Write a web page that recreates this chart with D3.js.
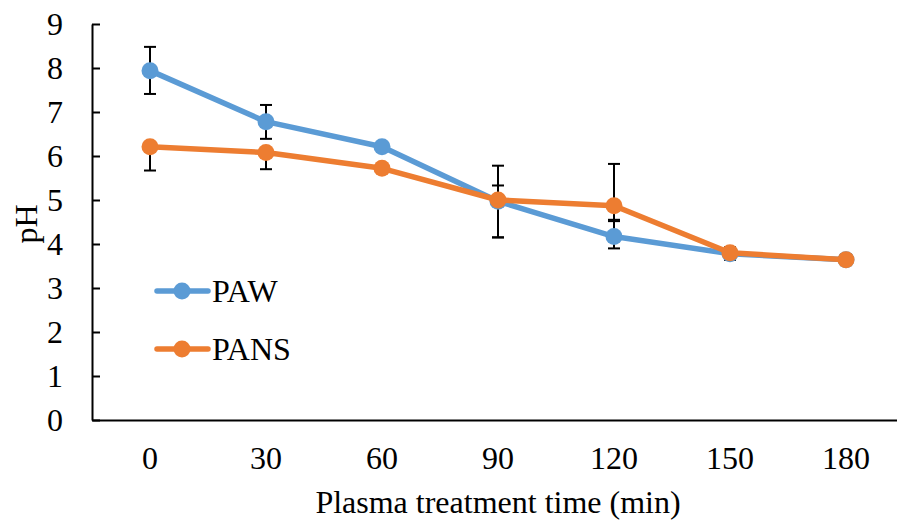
<!DOCTYPE html>
<html>
<head>
<meta charset="utf-8">
<script src="https://cdn.jsdelivr.net/npm/d3@7"></script>
<style>
  body { margin: 0; background: #fff; }
  text { font-family: "Liberation Serif", "Times New Roman", serif; fill: #000; }
</style>
</head>
<body>
<div id="chart"></div>
<script>
const times = ['0', '30', '60', '90', '120', '150', '180'];
const yTicks = [0, 1, 2, 3, 4, 5, 6, 7, 8, 9];

const pawValues = [7.94, 6.78, 6.21, 4.97, 4.17, 3.78, 3.64];
const pawErrUp = [0.54, 0.38, 0, 0.36, 0.38, 0.14, 0.12];
const pawErrDown = [0.53, 0.39, 0, 0.82, 0.27, 0.14, 0.12];

const pansValues = [6.21, 6.08, 5.72, 5.0, 4.87, 3.8, 3.64];
const pansErrUp = [0, 0, 0.07, 0.78, 0.95, 0.12, 0.1];
const pansErrDown = [0.54, 0.38, 0.07, 0.85, 0.35, 0.12, 0.1];

const width = 897;
const height = 520;
const margin = { top: 24, right: -7, bottom: 100, left: 92 };
const fontSize = '32px';

const series = [
  { name: 'PAW', color: '#5B9BD5', values: pawValues, up: pawErrUp, down: pawErrDown },
  { name: 'PANS', color: '#ED7D31', values: pansValues, up: pansErrUp, down: pansErrDown }
];

const svg = d3.select('#chart')
  .append('svg')
  .attr('width', width)
  .attr('height', height);

const x = d3.scaleBand()
  .domain(times)
  .range([margin.left, width - margin.right])
  .padding(0);

const y = d3.scaleLinear()
  .domain([0, 9])
  .range([height - margin.bottom, margin.top]);

const cx = t => x(t) + x.bandwidth() / 2;

// axes
svg.append('g')
  .attr('transform', `translate(0,${y(0)})`)
  .call(d3.axisBottom(x).tickSize(0).tickPadding(26))
  .call(g => g.select('.domain').attr('stroke', '#000').attr('stroke-width', 2))
  .call(g => g.selectAll('text').attr('font-size', fontSize).attr('font-family', '"Liberation Serif", serif'));

svg.append('g')
  .attr('transform', `translate(${margin.left},0)`)
  .call(d3.axisLeft(y).tickValues(yTicks).tickSizeInner(-8).tickSizeOuter(0).tickPadding(29))
  .call(g => g.select('.domain').attr('stroke', '#000').attr('stroke-width', 2))
  .call(g => g.selectAll('line').attr('stroke', '#000').attr('stroke-width', 2))
  .call(g => g.selectAll('text').attr('font-size', fontSize).attr('font-family', '"Liberation Serif", serif'));

// axis titles
svg.append('text')
  .attr('x', 498)
  .attr('y', 513)
  .attr('text-anchor', 'middle')
  .attr('font-size', fontSize)
  .text('Plasma treatment time (min)');

svg.append('text')
  .attr('transform', 'translate(37,224) rotate(-90)')
  .attr('text-anchor', 'middle')
  .attr('font-size', fontSize)
  .text('pH');

// error bars
series.forEach(s => {
  const g = svg.append('g').attr('stroke', '#000').attr('stroke-width', 2);
  times.forEach((t, i) => {
    const hi = s.values[i] + s.up[i];
    const lo = s.values[i] - s.down[i];
    if (hi === lo) return;
    g.append('line').attr('x1', cx(t)).attr('x2', cx(t)).attr('y1', y(hi)).attr('y2', y(lo));
    if (s.up[i] > 0) g.append('line').attr('x1', cx(t) - 6).attr('x2', cx(t) + 6).attr('y1', y(hi)).attr('y2', y(hi));
    if (s.down[i] > 0) g.append('line').attr('x1', cx(t) - 6).attr('x2', cx(t) + 6).attr('y1', y(lo)).attr('y2', y(lo));
  });
});

// lines and markers
const line = d3.line()
  .x((d, i) => cx(times[i]))
  .y(d => y(d));

series.forEach(s => {
  svg.append('path')
    .datum(s.values)
    .attr('fill', 'none')
    .attr('stroke', s.color)
    .attr('stroke-width', 5.5)
    .attr('stroke-linejoin', 'round')
    .attr('d', line);

  svg.append('g')
    .selectAll('circle')
    .data(s.values)
    .join('circle')
      .attr('cx', (d, i) => cx(times[i]))
      .attr('cy', d => y(d))
      .attr('r', 8.5)
      .attr('fill', s.color);
});

// legend
const legend = svg.append('g');
series.forEach((s, i) => {
  const ly = 291 + i * 58;
  legend.append('line')
    .attr('x1', 157).attr('x2', 208)
    .attr('y1', ly).attr('y2', ly)
    .attr('stroke', s.color)
    .attr('stroke-width', 5.5)
    .attr('stroke-linecap', 'round');
  legend.append('circle')
    .attr('cx', 182).attr('cy', ly).attr('r', 8.5)
    .attr('fill', s.color);
  legend.append('text')
    .attr('x', 212).attr('y', ly + 11)
    .attr('font-size', fontSize)
    .text(s.name);
});
</script>
</body>
</html>
